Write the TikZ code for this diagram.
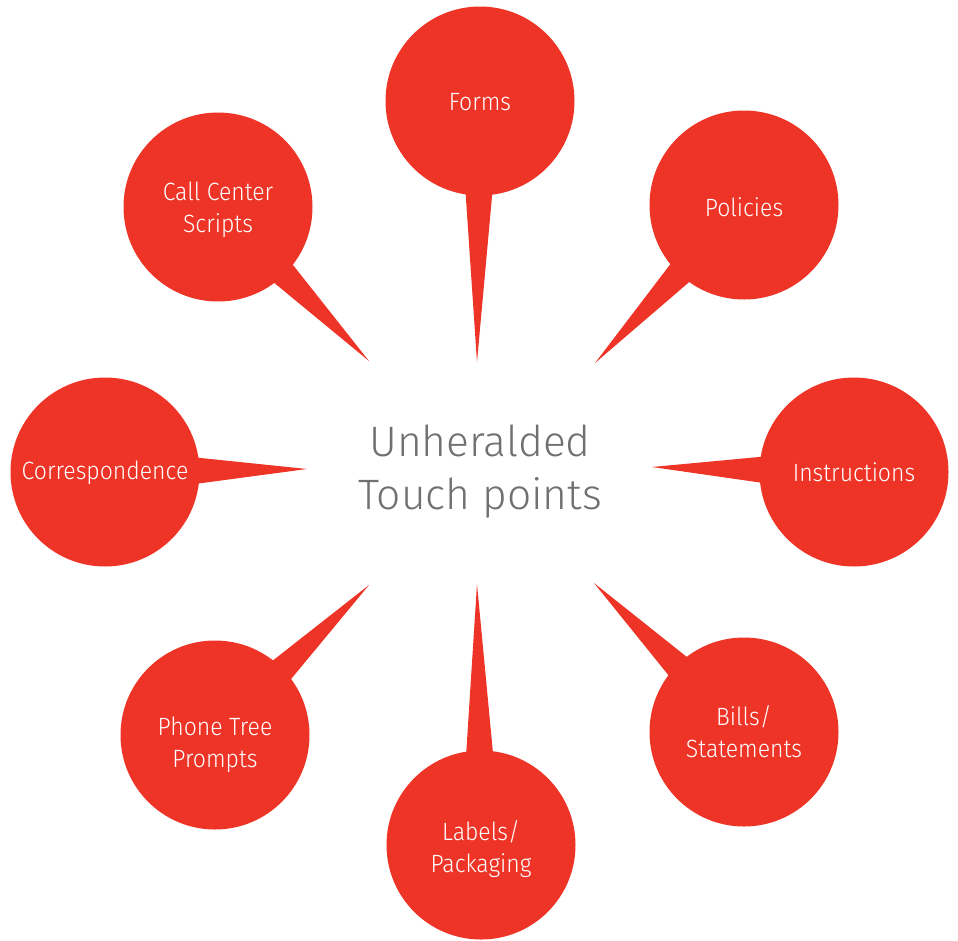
\documentclass[tikz,border=0pt]{standalone}
\usepackage{fontspec}
\setmainfont{Fira Sans Light}[FakeStretch=0.92]
\newfontfamily\ctrfont{Fira Sans Light}
\usetikzlibrary{calc,backgrounds}
\definecolor{tpred}{RGB}{238,52,39}
\definecolor{tpgray}{RGB}{112,112,114}
\begin{document}
\begin{tikzpicture}[x=1pt,y=-1pt,
  bubble/.style={circle, fill=tpred, minimum size=189pt, inner sep=0pt},
  bubtext/.style={text=white, align=center, font=\fontsize{25}{32}\selectfont},
  tail/.style={fill=tpred}]
\useasboundingbox (0,0) rectangle (958,940);
\node[bubble, label={[bubtext, yshift=-1pt]center:Forms}] (forms) at (480,101) {};
\node[bubble, label={[bubtext, yshift=-2pt]center:Policies}] (policies) at (744,205) {};
\node[bubble, label={[bubtext]center:Instructions}] (instructions) at (854,472) {};
\node[bubble, label={[bubtext]center:Bills/\\Statements}] (bills) at (744,732) {};
\node[bubble, label={[bubtext, yshift=-4pt]center:Labels/\\Packaging}] (labels) at (481,845) {};
\node[bubble, label={[bubtext, yshift=-10pt]center:Phone Tree\\Prompts}] (phone) at (215,735) {};
\node[bubble, label={[bubtext, yshift=-1pt]center:Correspondence}] (corr) at (105,472) {};
\node[bubble, label={[bubtext, yshift=-2.5pt]center:Call Center\\Scripts}] (call) at (218,207) {};
\coordinate (forms-t) at (477,362);
\coordinate (policies-t) at (595,363);
\coordinate (instructions-t) at (652,467);
\coordinate (bills-t) at (594,583);
\coordinate (labels-t) at (477,584);
\coordinate (phone-t) at (369,585);
\coordinate (corr-t) at (307,469);
\coordinate (call-t) at (369,361);
\begin{scope}[on background layer]
\foreach \n in {forms,policies,instructions,bills,labels,phone,corr,call}{
  \coordinate (\n-e) at ($(\n.center)!84pt!(\n-t)$);
  \fill[tail] (\n-t) -- ($(\n-e)!14pt!90:(\n-t)$) -- ($(\n-e)!14pt!-90:(\n-t)$) -- cycle;
}
\end{scope}
\node[text=tpgray, align=center, font=\ctrfont\fontsize{42.5}{53}\selectfont] (center) at (480,472) {Unheralded\\Touch points};
\end{tikzpicture}
\end{document}
